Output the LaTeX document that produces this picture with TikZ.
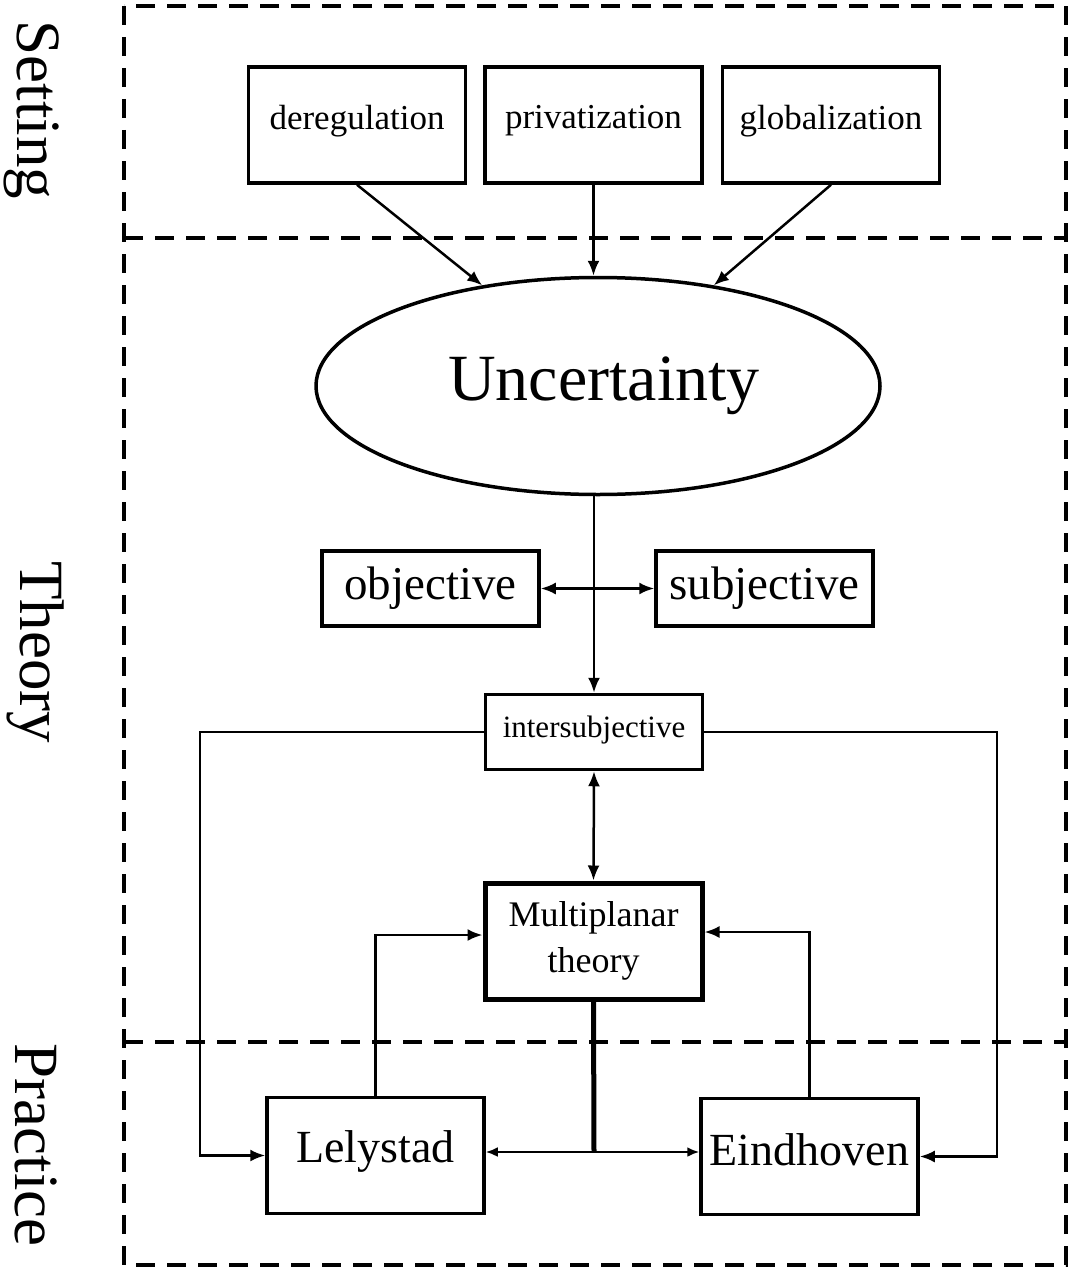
\documentclass[tikz,border=0pt]{standalone}
\usepackage{fontspec}
\setmainfont{Liberation Serif}
\usetikzlibrary{arrows.meta,shapes.geometric}
\newcommand{\lift}[2]{\raisebox{#1}[\height][\depth]{#2}}

\begin{document}
\begin{tikzpicture}[x=1pt, y=-1pt, every node/.style={draw, line width=3.5pt, inner sep=0pt, minimum width=217pt}, plain/.style={draw=none}, box/.style={minimum height=116pt}, flat/.style={minimum height=75pt}, arr/.style={line width=2.5pt, -{Latex[length=15pt,width=12pt]}}, dual/.style={line width=2.5pt, {Latex[length=15pt,width=12pt]}-{Latex[length=15pt,width=12pt]}}, zone/.style={line width=4pt, dash pattern=on 19pt off 12pt}]
  \useasboundingbox (0,0) rectangle (1070,1271);
  % zones
  \draw[zone] (124,6) rectangle (1066,1265);
  \draw[zone] (124,238) -- (1066,238);
  \draw[zone] (124,1042) -- (1066,1042);
  \node[plain, rotate=-90, font=\fontsize{63}{63}\selectfont](setting) at (32,110){Setting};
  \node[plain, rotate=-90, font=\fontsize{63}{63}\selectfont](theory) at (36,652){Theory};
  \node[plain, rotate=-90, font=\fontsize{63}{63}\selectfont](practice) at (36,1145){Practice};
  % setting
  \node[box, font=\fontsize{35}{35}\selectfont](dereg) at (357,125){\lift{4pt}{deregulation}};
  \node[box, font=\fontsize{35}{35}\selectfont](priv) at (593.5,125){\lift{4pt}{privatization}};
  \node[box, font=\fontsize{35}{35}\selectfont](glob) at (831,125){\lift{4pt}{globalization}};
  % theory
  \node[ellipse, minimum width=564pt, minimum height=217pt, font=\fontsize{66}{66}\selectfont](unc) at (598,386){\hspace{12pt}Uncertainty};
  \node[flat, font=\fontsize{47}{47}\selectfont](obj) at (430.5,588.5){objective};
  \node[flat, font=\fontsize{47}{47}\selectfont](subj) at (764.5,588.5){subjective};
  \node[flat, font=\fontsize{31}{31}\selectfont](inter) at (594,732){\lift{2pt}{intersubjective}};
  \node[box, line width=5pt, align=center, font=\fontsize{36}{46}\selectfont](multi) at (593.5,941){Multiplanar\\theory};
  % practice
  \node[box, font=\fontsize{46}{46}\selectfont](lely) at (375.5,1155.5){\lift{4pt}{Lelystad}};
  \node[box, font=\fontsize{46}{46}\selectfont](eind) at (809.5,1156.5){\lift{7pt}{Eindhoven}};
  \coordinate (split) at (594,1152);

  \draw[arr] (dereg.south) -- (unc.139);
  \draw[arr] (priv.south) -- (priv.south |- unc.north);
  \draw[arr] (glob.south) -- (unc.41);
  \draw[arr] (inter.north |- unc.south) -- (inter.north);
  \draw[dual] (obj.east) -- (subj.west);
  \draw[dual] (inter.south) -- (multi.north);
  \draw[arr] (inter.west) -- (200,732) |- (lely.west);
  \draw[arr] (inter.east) -- (997,732) |- (eind.east);
  \draw[arr] (lely.north) |- ([yshift=6pt]multi.west);
  \draw[arr] (eind.north) |- ([yshift=9pt]multi.east);
  \draw[line width=5pt] (multi.south) -- (split);
  \draw[line width=2.5pt, -{Latex[length=12pt,width=10pt]}] (split) -- (split -| lely.east);
  \draw[line width=2.5pt, -{Latex[length=12pt,width=10pt]}] (split) -- (split -| eind.west);
\end{tikzpicture}
\end{document}
